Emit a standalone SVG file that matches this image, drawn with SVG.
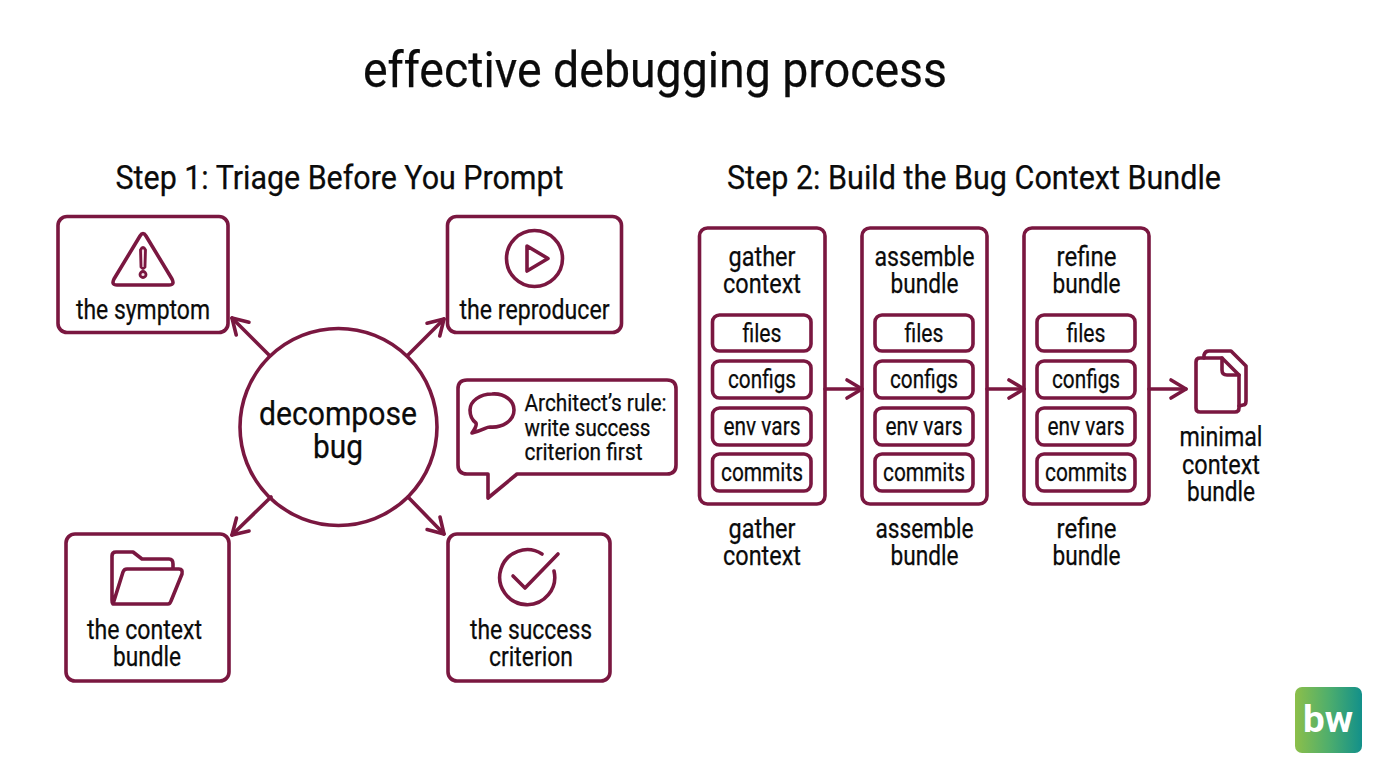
<svg xmlns="http://www.w3.org/2000/svg" width="1376" height="768" viewBox="0 0 1376 768">
<style>
text{font-family:Roboto,"Liberation Sans",sans-serif;fill:#0b0b0b;stroke:#0b0b0b;stroke-width:.25;text-anchor:middle}
.b{fill:none;stroke:#7a1740;stroke-width:3.600;stroke-linejoin:round;stroke-linecap:round}
.w{fill:#fff}
.h{font-size:33px}
.t{font-size:27px}
.s{font-size:25px}
</style>
<defs>
<marker id="a" markerUnits="userSpaceOnUse" markerWidth="24" markerHeight="24" refX="18" refY="12" orient="auto"><path d="M3 3 L18 12 L3 21" fill="none" stroke="#7a1740" stroke-width="3.600" stroke-linecap="round" stroke-linejoin="round"/></marker>
<linearGradient id="g" x1="0" x2="1" y1="0" y2="0"><stop offset="0" stop-color="#8cbf4a"/><stop offset="0.5" stop-color="#4fae6c"/><stop offset="1" stop-color="#12908a"/></linearGradient>
</defs>
<rect width="1376" height="768" fill="#fff"/>
<text id="title" x="655" y="87" font-size="50" textLength="584" lengthAdjust="spacingAndGlyphs">effective debugging process</text>
<text class="h" x="339.500" y="189" textLength="448" lengthAdjust="spacingAndGlyphs">Step 1: Triage Before You Prompt</text>
<text class="h" x="974" y="189" textLength="494" lengthAdjust="spacingAndGlyphs">Step 2: Build the Bug Context Bundle</text>

<g id="connectors">
<path class="b" marker-end="url(#a)" d="M269 355 L232 318"/>
<path class="b" marker-end="url(#a)" d="M408 355 L444 319"/>
<path class="b" marker-end="url(#a)" d="M271 497 L232 535"/>
<path class="b" marker-end="url(#a)" d="M408 497 L444 534"/>
<path class="b" marker-end="url(#a)" d="M825 389 L862 389"/>
<path class="b" marker-end="url(#a)" d="M987 389 L1024 389"/>
<path class="b" marker-end="url(#a)" d="M1149 389 L1186 389"/>
</g>

<g id="decompose">
<circle class="b" cx="338.500" cy="427" r="98.500"/>
<text x="338" y="425" font-size="33" textLength="158" lengthAdjust="spacingAndGlyphs">decompose</text>
<text x="338" y="458" font-size="33" textLength="50" lengthAdjust="spacingAndGlyphs">bug</text>
</g>

<g id="symptom">
<rect class="b" x="58" y="216.500" width="170" height="116" rx="9"/>
<path class="b" d="M143 233.500 Q144.500 233.500 146 236 L172 279 Q175 285 169 285 L117 285 Q111 285 114 279 L140 236 Q141.500 233.500 143 233.500Z"/>
<path d="M140.500 250 Q143 245 145.500 250 L145 267 Q143 270 141 267Z" fill="#f3dfe6" stroke="#7a1740" stroke-width="2.800" stroke-linejoin="round"/>
<circle cx="143" cy="274.500" r="3" fill="#f3dfe6" stroke="#7a1740" stroke-width="2.800"/>
<text class="t" x="143" y="319" textLength="134" lengthAdjust="spacingAndGlyphs">the symptom</text>
</g>

<g id="reproducer">
<rect class="b" x="447.500" y="216.500" width="174" height="116" rx="9"/>
<circle class="b" cx="534.500" cy="258.500" r="28"/>
<path class="b" d="M527 246 L548 258.500 L527 271Z"/>
<text class="t" x="534.500" y="319" textLength="150" lengthAdjust="spacingAndGlyphs">the reproducer</text>
</g>

<g id="context">
<rect class="b" x="66" y="534" width="163" height="147" rx="9"/>
<path class="b" d="M114 604 Q112 604 112 600 L112 556 Q112 552 116 552 L133 552 L142 559 L169 559 Q173 559 173 564 L173 569 M113 604 L168 604 Q170 604 171 601 L182 574 Q183 569 179 569 L127 569 Q124 569 123 572 L113 604"/>
<text class="t" x="144.500" y="639" textLength="115" lengthAdjust="spacingAndGlyphs">the context</text>
<text class="t" x="147" y="666" textLength="68" lengthAdjust="spacingAndGlyphs">bundle</text>
</g>

<g id="success">
<rect class="b" x="448" y="534" width="162" height="147" rx="9"/>
<path class="b" d="M554 571 A27.500 27.500 0 1 1 542 554"/>
<path class="b" d="M513 576 L525 588 L558 554"/>
<text class="t" x="531" y="639" textLength="122" lengthAdjust="spacingAndGlyphs">the success</text>
<text class="t" x="531" y="666" textLength="84" lengthAdjust="spacingAndGlyphs">criterion</text>
</g>

<g id="rule">
<path class="b" d="M467 380 L667 380 Q676 380 676 389 L676 465 Q676 474 667 474 L517 474 L488 498 L488 474 L467 474 Q458 474 458 465 L458 389 Q458 380 467 380Z"/>
<path class="b" d="M492 394 C505 393 514 401 514 410 C514 421 502 428 490 427 C486 427 484 430 472 433 C475 429 477 426 476 423 C472 420 470 416 470 410 C470 401 480 394 492 394Z"/>
<text x="595.500" y="411" font-size="24" textLength="142" lengthAdjust="spacingAndGlyphs">Architect’s rule:</text>
<text x="587.500" y="436" font-size="24" textLength="126" lengthAdjust="spacingAndGlyphs">write success</text>
<text x="583.500" y="460" font-size="24" textLength="118" lengthAdjust="spacingAndGlyphs">criterion first</text>
</g>

<g id="gather">
<rect class="b" x="699.500" y="228" width="125.500" height="276" rx="8"/>
<text class="t" x="762" y="266" textLength="67" lengthAdjust="spacingAndGlyphs">gather</text>
<text class="t" x="762" y="293" textLength="78" lengthAdjust="spacingAndGlyphs">context</text>
<rect class="b w" x="712.500" y="315" width="98.500" height="36" rx="7"/>
<text class="s" x="762" y="342" textLength="39" lengthAdjust="spacingAndGlyphs">files</text>
<rect class="b w" x="712.500" y="361" width="98.500" height="37" rx="7"/>
<text class="s" x="762" y="388" textLength="68" lengthAdjust="spacingAndGlyphs">configs</text>
<rect class="b w" x="712.500" y="408" width="98.500" height="37" rx="7"/>
<text class="s" x="762" y="435" textLength="77" lengthAdjust="spacingAndGlyphs">env vars</text>
<rect class="b w" x="712.500" y="454" width="98.500" height="37" rx="7"/>
<text class="s" x="762" y="481" textLength="82" lengthAdjust="spacingAndGlyphs">commits</text>
<text class="t" x="762" y="538" textLength="67" lengthAdjust="spacingAndGlyphs">gather</text>
<text class="t" x="762" y="565" textLength="78" lengthAdjust="spacingAndGlyphs">context</text>
</g>

<g id="assemble">
<rect class="b" x="862" y="228" width="125" height="276" rx="8"/>
<text class="t" x="924.500" y="266" textLength="100" lengthAdjust="spacingAndGlyphs">assemble</text>
<text class="t" x="924.500" y="293" textLength="68" lengthAdjust="spacingAndGlyphs">bundle</text>
<rect class="b w" x="875" y="315" width="98" height="36" rx="7"/>
<text class="s" x="924" y="342" textLength="39" lengthAdjust="spacingAndGlyphs">files</text>
<rect class="b w" x="875" y="361" width="98" height="37" rx="7"/>
<text class="s" x="924" y="388" textLength="68" lengthAdjust="spacingAndGlyphs">configs</text>
<rect class="b w" x="875" y="408" width="98" height="37" rx="7"/>
<text class="s" x="924" y="435" textLength="77" lengthAdjust="spacingAndGlyphs">env vars</text>
<rect class="b w" x="875" y="454" width="98" height="37" rx="7"/>
<text class="s" x="924" y="481" textLength="82" lengthAdjust="spacingAndGlyphs">commits</text>
<text class="t" x="924.500" y="538" textLength="98" lengthAdjust="spacingAndGlyphs">assemble</text>
<text class="t" x="924.500" y="565" textLength="68" lengthAdjust="spacingAndGlyphs">bundle</text>
</g>

<g id="refine">
<rect class="b" x="1024" y="228" width="125" height="276" rx="8"/>
<text class="t" x="1086.500" y="266" textLength="60" lengthAdjust="spacingAndGlyphs">refine</text>
<text class="t" x="1086.500" y="293" textLength="68" lengthAdjust="spacingAndGlyphs">bundle</text>
<rect class="b w" x="1037" y="315" width="98" height="36" rx="7"/>
<text class="s" x="1086" y="342" textLength="39" lengthAdjust="spacingAndGlyphs">files</text>
<rect class="b w" x="1037" y="361" width="98" height="37" rx="7"/>
<text class="s" x="1086" y="388" textLength="68" lengthAdjust="spacingAndGlyphs">configs</text>
<rect class="b w" x="1037" y="408" width="98" height="37" rx="7"/>
<text class="s" x="1086" y="435" textLength="77" lengthAdjust="spacingAndGlyphs">env vars</text>
<rect class="b w" x="1037" y="454" width="98" height="37" rx="7"/>
<text class="s" x="1086" y="481" textLength="82" lengthAdjust="spacingAndGlyphs">commits</text>
<text class="t" x="1086.500" y="538" textLength="60" lengthAdjust="spacingAndGlyphs">refine</text>
<text class="t" x="1086.500" y="565" textLength="68" lengthAdjust="spacingAndGlyphs">bundle</text>
</g>

<g id="minimal">
<path class="b" d="M1204 358 L1204 355 Q1205 351 1209 351 L1231 351 L1246 366 L1246 401 Q1246 405 1243 405 L1239 406"/>
<path class="b" d="M1200 358 L1222 358 L1239 375 L1239 408 Q1239 412 1235 412 L1200 412 Q1196 412 1196 408 L1196 362 Q1196 358 1200 358Z"/>
<path class="b" d="M1222 358 L1222 370 Q1222 375 1227 375 L1239 375"/>
<text class="t" x="1221" y="446" textLength="83" lengthAdjust="spacingAndGlyphs">minimal</text>
<text class="t" x="1221" y="474" textLength="78" lengthAdjust="spacingAndGlyphs">context</text>
<text class="t" x="1221" y="501" textLength="68" lengthAdjust="spacingAndGlyphs">bundle</text>
</g>

<g id="logo">
<rect x="1295" y="687" width="67" height="66" rx="7" fill="url(#g)"/>
<text x="1328" y="732" font-size="37" font-weight="700" style="fill:#fff;stroke:none" textLength="50" lengthAdjust="spacingAndGlyphs">bw</text>
</g>
</svg>
